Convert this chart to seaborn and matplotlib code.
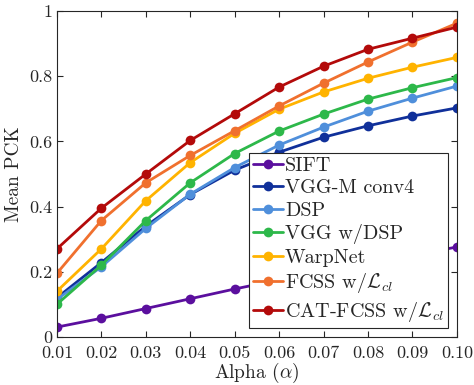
import pandas as pd
import seaborn as sns
import matplotlib.pyplot as plt

alpha = [0.01, 0.02, 0.03, 0.04, 0.05, 0.06, 0.07, 0.08, 0.09, 0.10]
x_ticklabels = ['0.01', '0.02', '0.03', '0.04', '0.05', '0.06', '0.07', '0.08', '0.09', '0.10']
y_ticks = [0, 0.2, 0.4, 0.6, 0.8, 1]
y_ticklabels = ['0', '0.2', '0.4', '0.6', '0.8', '1']

sift = [0.030, 0.057, 0.087, 0.117, 0.147, 0.175, 0.200, 0.225, 0.250, 0.276]
vggm = [0.120, 0.228, 0.340, 0.437, 0.512, 0.567, 0.613, 0.648, 0.678, 0.703]
dsp = [0.115, 0.215, 0.333, 0.438, 0.520, 0.589, 0.644, 0.693, 0.733, 0.770]
vgg_dsp = [0.100, 0.220, 0.357, 0.473, 0.563, 0.632, 0.684, 0.730, 0.765, 0.796]
warpnet = [0.140, 0.270, 0.418, 0.535, 0.625, 0.699, 0.752, 0.794, 0.828, 0.858]
fcss = [0.195, 0.357, 0.473, 0.557, 0.633, 0.709, 0.779, 0.844, 0.905, 0.963]
cat_fcss = [0.270, 0.395, 0.500, 0.603, 0.685, 0.767, 0.831, 0.883, 0.917, 0.951]

methods = ['SIFT', 'VGG-M conv4', 'DSP', 'VGG w/DSP', 'WarpNet',
           r'FCSS w/$\mathcal{L}_{cl}$', r'CAT-FCSS w/$\mathcal{L}_{cl}$']
colors = ['#5b0f9e', '#10309a', '#4f8fdb', '#2db84a', '#ffb300', '#f0702e', '#b30a0a']
series = [sift, vggm, dsp, vgg_dsp, warpnet, fcss, cat_fcss]

rows = []
for name, vals in zip(methods, series):
    for a, v in zip(alpha, vals):
        rows.append({'alpha': a, 'pck': v, 'method': name})
df = pd.DataFrame(rows)

sns.set_style('ticks')
plt.rcParams['font.family'] = 'serif'
plt.rcParams['font.serif'] = ['cmr10', 'DejaVu Serif']
plt.rcParams['mathtext.fontset'] = 'cm'
plt.rcParams['axes.formatter.use_mathtext'] = True

fig = plt.figure(figsize=(4.74, 3.85), dpi=100)
ax = fig.add_axes([0.120, 0.125, 0.844, 0.846])

sns.lineplot(data=df, x='alpha', y='pck', hue='method', hue_order=methods,
             palette=colors, marker='o', markersize=7, markeredgewidth=0,
             linewidth=2, ax=ax)

ax.set_xlim(0.01, 0.10)
ax.set_ylim(0, 1)
ax.set_xticks(alpha)
ax.set_xticklabels(x_ticklabels, fontsize=13)
ax.set_yticks(y_ticks)
ax.set_yticklabels(y_ticklabels, fontsize=13)
ax.tick_params(direction='in', top=True, right=True, length=4, colors='#262626')
ax.tick_params(axis='x', pad=6)
ax.set_xlabel(r'Alpha ($\alpha$)', fontsize=14, labelpad=0)
ax.set_ylabel('Mean PCK', fontsize=14, labelpad=4)
for s in ax.spines.values():
    s.set_visible(True)
    s.set_color('#262626')

ax.legend(loc='lower right', fontsize=14.5, frameon=True, fancybox=False,
          edgecolor='#262626', framealpha=1, handlelength=1.5,
          handletextpad=0.1, labelspacing=0.22, borderpad=0.2,
          borderaxespad=0.45)
ax.get_legend().get_frame().set_linewidth(0.8)

fig.savefig('out.png', dpi=100)
